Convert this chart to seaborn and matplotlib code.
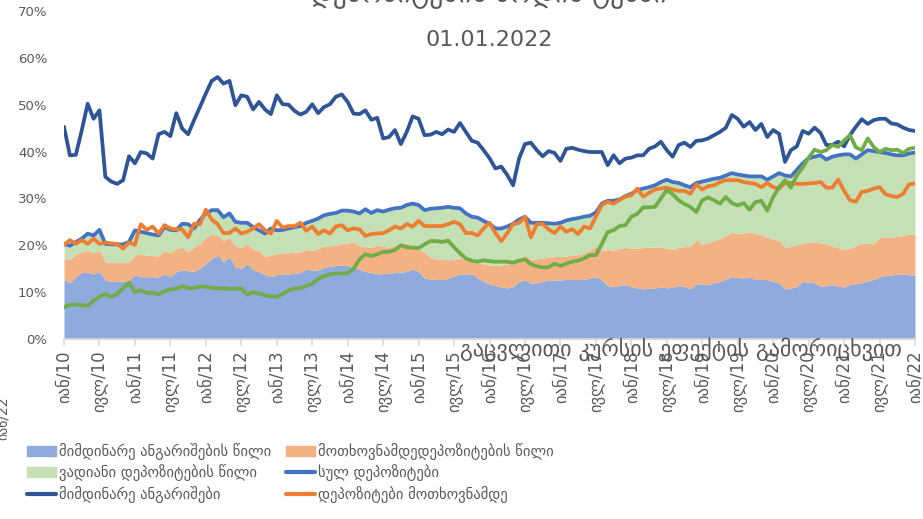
import numpy as np
import pandas as pd
import matplotlib
matplotlib.use("Agg")
import matplotlib.pyplot as plt
import seaborn as sns
from matplotlib.patches import Patch
from matplotlib.lines import Line2D

# monthly data, jan 2010 .. jan 2022 (percent)
tick_labels = ["იან/10", "ივლ/10", "იან/11", "ივლ/11", "იან/12", "ივლ/12", "იან/13", "ივლ/13",
               "იან/14", "ივლ/14", "იან/15", "ივლ/15", "იან/16", "ივლ/16", "იან/17", "ივლ/17",
               "იან/18", "ივლ/18", "იან/19", "ივლ/19", "იან/20", "ივლ/20", "იან/21", "ივლ/21", "იან/22"]

# top of the current-accounts share layer
current_top = [12.7, 12.0, 13.3, 14.2, 14.2, 13.9, 14.4, 12.6, 12.3, 12.3,
               12.3, 12.5, 13.7, 13.3, 13.3, 13.3, 13.2, 13.9, 13.3, 14.4,
               14.7, 14.6, 14.4, 15.1, 16.1, 17.2, 17.9, 16.5, 17.5, 15.4,
               15.1, 16.1, 14.7, 14.4, 13.7, 13.3, 13.7, 13.9, 13.9, 14.0,
               14.2, 14.9, 14.7, 14.7, 15.3, 15.5, 15.7, 15.8, 15.7, 15.3,
               14.9, 14.4, 14.2, 13.9, 14.0, 14.0, 14.2, 14.3, 14.4, 14.9,
               14.4, 13.0, 12.8, 12.7, 12.7, 12.9, 13.4, 13.9, 13.9, 13.9,
               13.0, 12.3, 11.7, 11.4, 11.1, 10.9, 11.2, 12.3, 12.6, 11.9,
               12.0, 12.3, 12.6, 12.6, 12.6, 12.7, 12.7, 12.7, 12.7, 13.0,
               13.3, 12.6, 11.4, 11.2, 11.4, 11.6, 11.1, 10.9, 10.7, 10.8,
               10.9, 11.1, 10.9, 11.1, 11.4, 11.2, 10.7, 11.8, 11.7, 11.6,
               12.0, 12.3, 12.8, 13.3, 13.1, 13.0, 13.3, 12.7, 12.7, 12.7,
               12.3, 12.0, 10.7, 10.9, 11.2, 12.3, 12.1, 12.0, 11.2, 11.4,
               11.6, 11.3, 11.1, 11.6, 11.8, 12.0, 12.4, 12.7, 13.3, 13.5,
               13.7, 13.8, 13.9, 13.7, 13.6]

# top of the demand-deposits share layer (stacked on current accounts)
demand_top = [17.2, 17.0, 18.1, 18.6, 18.9, 18.4, 18.9, 16.5, 16.3, 16.3,
              16.3, 16.5, 17.9, 18.1, 17.9, 17.8, 17.7, 18.9, 18.4, 19.3,
              19.6, 18.6, 19.6, 20.3, 21.7, 22.3, 22.1, 21.0, 21.7, 19.8,
              19.6, 20.3, 19.1, 18.9, 17.6, 17.9, 18.2, 18.4, 18.4, 18.5,
              18.6, 19.1, 18.9, 19.3, 19.8, 19.9, 20.0, 20.3, 20.5, 20.7,
              19.9, 19.7, 19.6, 20.0, 19.8, 19.6, 20.0, 20.3, 20.5, 19.8,
              19.3, 18.5, 17.4, 17.1, 17.0, 16.9, 17.0, 17.2, 17.1, 16.7,
              16.3, 16.0, 15.8, 15.7, 15.8, 16.0, 16.3, 16.6, 17.9, 17.0,
              17.1, 17.3, 17.5, 17.6, 17.6, 17.7, 17.9, 18.0, 18.3, 18.9,
              19.8, 18.9, 19.1, 18.9, 19.3, 19.6, 19.3, 19.4, 19.5, 19.6,
              19.6, 19.6, 19.4, 19.1, 19.6, 19.7, 19.8, 21.2, 20.2, 20.6,
              21.0, 21.4, 22.0, 22.8, 22.4, 22.6, 22.8, 22.5, 22.3, 21.7,
              21.3, 21.0, 19.5, 19.8, 20.0, 20.5, 20.6, 20.7, 20.5, 20.3,
              19.8, 19.5, 19.1, 19.3, 19.9, 20.5, 20.4, 20.3, 21.7, 21.7,
              21.7, 21.9, 22.1, 22.4, 22.4]

# total deposits (also the top of the time-deposits layer)
total_dep = [20.3, 19.9, 20.7, 21.4, 22.5, 22.1, 23.3, 20.3, 20.2, 20.2,
             20.2, 20.7, 23.2, 22.9, 22.6, 22.3, 22.1, 23.9, 23.3, 23.2,
             24.6, 24.5, 23.6, 25.4, 26.8, 27.5, 27.5, 26.0, 26.8, 25.0,
             24.8, 24.8, 23.9, 23.2, 22.5, 23.6, 23.2, 23.3, 23.6, 23.9,
             24.1, 24.8, 25.2, 25.7, 26.4, 26.7, 26.9, 27.4, 27.4, 27.2,
             26.8, 27.7, 26.9, 27.5, 27.2, 27.6, 27.9, 28.0, 28.6, 28.9,
             28.6, 27.5, 27.8, 27.9, 28.0, 28.2, 28.0, 27.9, 26.8, 26.1,
             25.9, 25.2, 24.6, 23.6, 23.6, 24.0, 24.6, 25.5, 26.1, 24.8,
             24.8, 24.8, 24.7, 24.6, 24.8, 25.3, 25.6, 25.8, 26.1, 26.3,
             27.0, 28.9, 29.5, 29.5, 29.8, 30.5, 31.0, 31.8, 32.1, 32.4,
             32.8, 33.5, 34.0, 33.5, 33.3, 32.8, 32.4, 33.3, 33.6, 33.9,
             34.2, 34.4, 34.9, 35.4, 35.1, 34.9, 34.7, 34.7, 34.7, 34.0,
             34.7, 35.4, 34.9, 34.7, 36.1, 37.5, 38.6, 38.9, 39.2, 38.3,
             38.9, 39.2, 39.4, 39.4, 38.5, 39.4, 40.3, 40.1, 39.9, 39.7,
             39.4, 39.2, 39.2, 39.6, 39.8]

current_acc = [45.3, 39.2, 39.3, 44.5, 50.2, 47.0, 48.8, 34.6, 33.6, 33.1,
               33.9, 39.0, 37.5, 39.9, 39.6, 38.5, 43.7, 44.2, 43.3, 48.2,
               44.9, 43.7, 46.7, 49.5, 52.4, 55.1, 55.9, 54.5, 55.1, 49.9,
               52.0, 51.7, 49.0, 50.6, 49.0, 48.0, 52.0, 50.1, 50.0, 48.7,
               47.9, 48.5, 50.1, 48.2, 49.5, 50.1, 51.7, 52.2, 50.6, 48.1,
               48.0, 48.8, 46.8, 47.2, 42.8, 43.1, 44.6, 41.6, 44.2, 47.5,
               47.0, 43.5, 43.6, 44.2, 43.7, 44.7, 44.2, 46.1, 44.2, 42.3,
               41.9, 40.3, 38.6, 36.4, 36.8, 35.0, 32.8, 38.5, 41.6, 41.9,
               40.3, 39.0, 40.1, 39.7, 38.0, 40.6, 40.8, 40.4, 40.1, 39.9,
               39.9, 39.9, 37.1, 39.2, 37.5, 38.5, 38.7, 39.2, 39.2, 40.6,
               41.1, 42.1, 40.3, 38.9, 41.4, 41.9, 41.0, 42.3, 42.4, 42.8,
               43.5, 44.2, 45.1, 47.8, 47.0, 45.3, 46.3, 44.6, 45.9, 43.1,
               44.6, 43.8, 37.8, 40.3, 41.1, 44.4, 43.8, 45.1, 44.0, 41.4,
               41.4, 42.1, 41.1, 43.5, 45.3, 46.9, 45.9, 46.7, 47.0, 47.0,
               46.0, 45.8, 45.1, 44.6, 44.4]

demand_dep = [20.1, 21.1, 20.3, 21.1, 20.3, 21.4, 20.3, 20.6, 20.4, 20.3,
              19.3, 20.6, 20.1, 24.5, 23.3, 24.0, 22.5, 24.3, 23.6, 23.4,
              23.4, 21.7, 24.6, 24.5, 27.6, 25.5, 24.5, 22.6, 22.6, 23.6,
              22.5, 22.9, 23.6, 24.5, 23.2, 22.5, 25.2, 23.8, 24.1, 24.1,
              24.8, 23.1, 24.0, 22.4, 23.2, 22.5, 24.0, 24.3, 23.2, 23.6,
              23.4, 22.0, 22.4, 22.5, 22.6, 23.2, 24.0, 23.6, 24.5, 24.0,
              25.2, 24.1, 24.1, 24.1, 24.1, 24.5, 25.0, 24.5, 22.6, 22.6,
              22.1, 23.6, 24.8, 22.6, 20.9, 22.6, 24.5, 24.8, 26.1, 21.7,
              24.5, 24.6, 23.4, 22.6, 24.0, 22.9, 23.4, 22.4, 24.0, 23.6,
              26.1, 28.6, 29.3, 28.9, 29.7, 30.4, 30.7, 32.1, 30.4, 31.2,
              31.9, 32.1, 32.3, 31.9, 31.6, 31.6, 31.0, 33.0, 31.9, 32.6,
              32.8, 33.5, 33.9, 33.9, 33.9, 33.5, 33.3, 33.1, 32.4, 33.3,
              32.4, 32.1, 33.3, 33.3, 33.1, 33.1, 33.2, 33.3, 33.5, 32.3,
              32.3, 34.0, 31.6, 29.6, 29.3, 31.4, 31.6, 32.1, 32.4, 30.9,
              30.5, 30.3, 31.0, 33.0, 33.2]

# growth excluding the exchange rate effect
excl_fx = [6.8, 7.3, 7.3, 7.2, 7.1, 8.2, 9.0, 9.6, 9.0, 9.6,
           10.8, 12.0, 10.0, 10.4, 9.8, 9.9, 9.5, 10.2, 10.6, 10.7,
           11.3, 10.8, 10.9, 11.2, 11.2, 10.9, 10.8, 10.8, 10.7, 10.7,
           10.8, 9.5, 10.0, 9.7, 9.3, 9.1, 9.0, 9.6, 10.4, 10.8,
           10.8, 11.4, 11.8, 12.8, 13.4, 13.8, 14.0, 14.0, 14.0, 15.0,
           17.0, 18.1, 17.7, 18.1, 18.6, 18.6, 19.0, 20.0, 19.6, 19.5,
           19.4, 20.2, 20.9, 20.9, 20.7, 21.0, 19.6, 18.3, 17.2, 16.7,
           16.5, 16.8, 16.6, 16.5, 16.5, 16.5, 16.3, 16.7, 17.0, 16.0,
           15.5, 15.3, 15.3, 16.1, 15.6, 16.1, 16.5, 16.7, 17.2, 17.9,
           17.9, 20.3, 22.8, 23.2, 24.1, 24.3, 26.1, 26.7, 28.1, 28.1,
           28.2, 30.0, 31.8, 30.9, 29.6, 28.8, 28.2, 27.1, 29.6, 30.2,
           29.6, 28.9, 30.3, 29.0, 28.5, 29.0, 27.6, 29.2, 29.5, 27.4,
           30.3, 32.4, 33.9, 32.3, 34.9, 36.6, 38.7, 40.4, 39.9, 40.3,
           41.4, 41.0, 42.4, 43.5, 40.9, 40.3, 42.8, 41.0, 39.9, 40.6,
           40.3, 40.4, 39.7, 40.6, 40.8]

months = np.arange(len(current_acc))
df = pd.DataFrame({"m": months, "cur_top": current_top, "dem_top": demand_top,
                   "total": total_dep, "cur": current_acc, "dem": demand_dep, "fx": excl_fx})

sns.set_theme(style="white")
plt.rcParams["font.family"] = ["DejaVu Sans"]
grey = "#595959"

fig = plt.figure(figsize=(9.23, 5.19), dpi=100)
ax = fig.add_axes([64 / 923, 1 - 339 / 519, (915 - 64) / 923, (339 - 11) / 519])

c_cur, c_dem, c_time = "#8FAADC", "#F4B183", "#C5E0B4"
ax.fill_between(df["m"], 0, df["cur_top"], color=c_cur, lw=0)
ax.fill_between(df["m"], df["cur_top"], df["dem_top"], color=c_dem, lw=0)
ax.fill_between(df["m"], df["dem_top"], df["total"], color=c_time, lw=0)

lw = 2.7
sns.lineplot(data=df, x="m", y="total", ax=ax, color="#4472C4", lw=lw)
sns.lineplot(data=df, x="m", y="dem", ax=ax, color="#ED7D31", lw=lw)
sns.lineplot(data=df, x="m", y="cur", ax=ax, color="#2F5597", lw=lw)
sns.lineplot(data=df, x="m", y="fx", ax=ax, color="#70AD47", lw=lw)

ax.set_xlim(0, 144)
ax.set_ylim(0, 70)
ax.set_yticks(range(0, 71, 10))
ax.set_yticklabels([f"{v}%" for v in range(0, 71, 10)], color=grey, fontsize=9.5)
ax.set_xticks(range(0, 145, 6))
ax.set_xticklabels(tick_labels, rotation=90, color=grey, fontsize=12)
ax.tick_params(axis="x", length=5, color="#D9D9D9", pad=3, bottom=True)
ax.tick_params(axis="y", length=0, pad=12)
ax.set_xlabel("")
ax.set_ylabel("")
for s in ["top", "right", "left"]:
    ax.spines[s].set_visible(False)
ax.spines["bottom"].set_color("#D9D9D9")

fig.text(489 / 923, 1 - 40 / 519, "01.01.2022", ha="center", va="center", fontsize=16, color=grey)
fig.text(489 / 923, 1 + 6 / 519, "დეპოზიტების ზრდის ტემპი", ha="center", va="center",
         fontsize=20, color=grey)
fig.text(460 / 923, 1 - 349 / 519, "გაცვლითი კურსის ეფექტის გამორიცხვით", ha="left", va="center",
         fontsize=15.8, color=grey)
fig.text(-0.004, 1 - 418 / 519, "იან/22", rotation=90, ha="left", va="center", fontsize=10, color=grey)

h1 = [Patch(color=c_cur, label="მიმდინარე ანგარიშების წილი"),
      Patch(color=c_time, label="ვადიანი დეპოზიტების წილი"),
      Line2D([], [], color="#2F5597", lw=3, label="მიმდინარე ანგარიშები")]
h2 = [Patch(color=c_dem, label="მოთხოვნამდედეპოზიტების წილი"),
      Line2D([], [], color="#4472C4", lw=3, label="სულ დეპოზიტები"),
      Line2D([], [], color="#ED7D31", lw=3, label="დეპოზიტები მოთხოვნამდე")]
kw = dict(loc="upper left", frameon=False, fontsize=10.5, handlelength=2.0, handletextpad=0.2,
          labelspacing=0.3, borderaxespad=0, borderpad=0, labelcolor=grey)
fig.legend(handles=h1, bbox_to_anchor=(27 / 923, 1 - 443 / 519), **kw)
fig.legend(handles=h2, bbox_to_anchor=(286 / 923, 1 - 443 / 519), **kw)

fig.savefig("out.png", dpi=100)
